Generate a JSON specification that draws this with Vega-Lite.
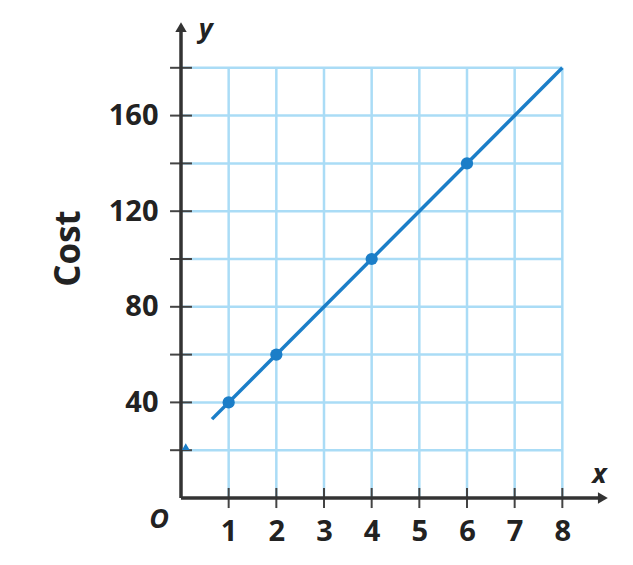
{
  "$schema": "https://vega.github.io/schema/vega-lite/v6.json",
  "autosize": "none",
  "width": 429,
  "height": 478,
  "padding": {"left": 181, "top": 20, "right": 23, "bottom": 67},
  "config": {"view": {"stroke": null}, "font": "Open Sans"},
  "layer": [
    {
      "data": {"values": [{"gx": 1}, {"gx": 2}, {"gx": 3}, {"gx": 4}, {"gx": 5}, {"gx": 6}, {"gx": 7}, {"gx": 8}]},
      "mark": {"type": "rule", "color": "#aadcf6", "strokeWidth": 2.5},
      "encoding": {
        "x": {"field": "gx", "type": "quantitative",
          "scale": {"domain": [0, 9], "nice": false, "zero": false},
          "axis": {"values": [1, 2, 3, 4, 5, 6, 7, 8], "domain": false, "ticks": false, "grid": false, "title": null,
            "labelFontSize": 29, "labelFontWeight": "bold", "labelColor": "#222", "labelPadding": 19}},
        "y": {"datum": 0, "type": "quantitative",
          "scale": {"domain": [0, 200], "nice": false, "zero": false},
          "axis": {"values": [40, 80, 120, 160], "domain": false, "ticks": false, "grid": false, "title": "Cost",
            "labelFontSize": 29, "labelFontWeight": "bold", "labelColor": "#222", "labelPadding": 23,
            "titleFontSize": 35, "titleFontWeight": "bold", "titleColor": "#222", "titlePadding": 22, "titleY": 228}},
        "y2": {"datum": 180}
      }
    },
    {
      "data": {"values": [{"gy": 20}, {"gy": 40}, {"gy": 60}, {"gy": 80}, {"gy": 100}, {"gy": 120}, {"gy": 140}, {"gy": 160}, {"gy": 180}]},
      "mark": {"type": "rule", "color": "#aadcf6", "strokeWidth": 2.5},
      "encoding": {
        "y": {"field": "gy", "type": "quantitative"},
        "x": {"datum": 0, "type": "quantitative"},
        "x2": {"datum": 8}
      }
    },
    {
      "data": {"values": [{"ty": 20}, {"ty": 40}, {"ty": 60}, {"ty": 80}, {"ty": 100}, {"ty": 120}, {"ty": 140}, {"ty": 160}, {"ty": 180}]},
      "mark": {"type": "rule", "color": "#444", "strokeWidth": 2},
      "encoding": {
        "y": {"field": "ty", "type": "quantitative"},
        "x": {"datum": -0.23, "type": "quantitative"},
        "x2": {"datum": 0.23}
      }
    },
    {
      "data": {"values": [{"tx": 1}, {"tx": 2}, {"tx": 3}, {"tx": 4}, {"tx": 5}, {"tx": 6}, {"tx": 7}, {"tx": 8}]},
      "mark": {"type": "rule", "color": "#444", "strokeWidth": 2},
      "encoding": {
        "x": {"field": "tx", "type": "quantitative"},
        "y": {"datum": -4.2, "type": "quantitative"},
        "y2": {"datum": 4.2}
      }
    },
    {
      "data": {"values": [{"ax": 0, "ay": 0, "ax2": 8.85, "ay2": 0}, {"ax": 0, "ay": 0, "ax2": 0, "ay2": 196}]},
      "mark": {"type": "rule", "color": "#333", "strokeWidth": 3.5},
      "encoding": {
        "x": {"field": "ax", "type": "quantitative"},
        "y": {"field": "ay", "type": "quantitative"},
        "x2": {"field": "ax2"},
        "y2": {"field": "ay2"}
      }
    },
    {
      "data": {"values": [{"px": 8.85, "py": 0, "shape": "triangle-right"}, {"px": 0, "py": 197, "shape": "triangle-up"}]},
      "mark": {"type": "point", "filled": true, "color": "#333", "size": 130, "opacity": 1},
      "encoding": {
        "x": {"field": "px", "type": "quantitative"},
        "y": {"field": "py", "type": "quantitative"},
        "shape": {"field": "shape", "type": "nominal", "scale": null, "legend": null}
      }
    },
    {
      "data": {"values": [{"x": 0.65, "y": 33}, {"x": 8, "y": 180}]},
      "mark": {"type": "line", "color": "#1b7ec8", "strokeWidth": 3.5},
      "encoding": {
        "x": {"field": "x", "type": "quantitative"},
        "y": {"field": "y", "type": "quantitative"}
      }
    },
    {
      "data": {"values": [{"x": 1, "y": 40}, {"x": 2, "y": 60}, {"x": 4, "y": 100}, {"x": 6, "y": 140}]},
      "mark": {"type": "circle", "color": "#1b7ec8", "size": 150, "opacity": 1},
      "encoding": {
        "x": {"field": "x", "type": "quantitative"},
        "y": {"field": "y", "type": "quantitative"}
      }
    },
    {
      "data": {"values": [{"x": 0.1, "y": 21.5}]},
      "mark": {"type": "point", "shape": "triangle-up", "filled": true, "color": "#1b7ec8", "size": 60, "opacity": 1},
      "encoding": {
        "x": {"field": "x", "type": "quantitative"},
        "y": {"field": "y", "type": "quantitative"}
      }
    },
    {
      "data": {"values": [{"x": -0.46, "y": -9.2, "t": "O"}, {"x": 8.78, "y": 9.6, "t": "x"}, {"x": 0.52, "y": 195.8, "t": "y"}]},
      "mark": {"type": "text", "fontSize": 27, "fontStyle": "italic", "fontWeight": "bold", "color": "#222", "align": "center", "baseline": "middle"},
      "encoding": {
        "x": {"field": "x", "type": "quantitative"},
        "y": {"field": "y", "type": "quantitative"},
        "text": {"field": "t"}
      }
    }
  ]
}
